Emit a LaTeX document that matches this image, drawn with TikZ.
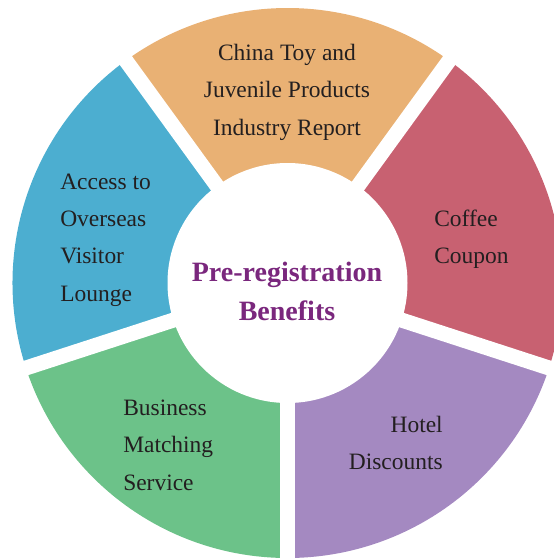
\documentclass[tikz,border=0pt]{standalone}
\usepackage{fontspec}
\setmainfont{Liberation Serif}
\usepackage{tikz}
\usepackage{color}

\definecolor{segorange}{RGB}{233,177,116}
\definecolor{segred}{RGB}{200,97,113}
\definecolor{segblue}{RGB}{76,174,208}
\definecolor{seggreen}{RGB}{108,194,137}
\definecolor{segpurple}{RGB}{164,137,193}
\definecolor{titlepurple}{RGB}{122,39,125}
\definecolor{labeltext}{RGB}{35,31,32}

\begin{document}
\begin{tikzpicture}[x=0.75pt,y=0.75pt,yscale=-1,xscale=1,
  seglabel/.style={inner sep=0pt,text=labeltext,font=\fontsize{17.6}{28.1}\selectfont},
  gapline/.style={draw=white,line width=11.25pt}]
\useasboundingbox (0,0) rectangle (554,558);

%Shape: Sector [id:orange]
\fill[segorange] (287.5,283) -- ++(-126:275) arc[start angle=-126,end angle=-54,radius=275] -- cycle ;
%Shape: Sector [id:red]
\fill[segred] (287.5,283) -- ++(-54:275) arc[start angle=-54,end angle=18,radius=275] -- cycle ;
%Shape: Sector [id:purple]
\fill[segpurple] (287.5,283) -- ++(18:275) arc[start angle=18,end angle=90,radius=275] -- cycle ;
%Shape: Sector [id:green]
\fill[seggreen] (287.5,283) -- ++(90:275) arc[start angle=90,end angle=162,radius=275] -- cycle ;
%Shape: Sector [id:blue]
\fill[segblue] (287.5,283) -- ++(162:275) arc[start angle=162,end angle=234,radius=275] -- cycle ;

%Shape: Circle [id:hole]
\fill[white] (287.5,283) circle[radius=120] ;

%Shape: Gaps
\draw[gapline] (287.5,283) -- ++(-126:290) ;
\draw[gapline] (287.5,283) -- ++(-54:290) ;
\draw[gapline] (287.5,283) -- ++(18:290) ;
\draw[gapline] (287.5,283) -- ++(90:290) ;
\draw[gapline] (287.5,283) -- ++(162:290) ;

% Text Node
\node[seglabel,align=center] (toyreport) at (287,92) {China Toy and\\Juvenile Products\\Industry Report};
% Text Node
\node[seglabel,align=left,anchor=west] (lounge) at (60,240) {Access to\\Overseas\\Visitor\\Lounge};
% Text Node
\node[seglabel,align=left,anchor=west] (coffee) at (434,239) {Coffee\\Coupon};
% Text Node
\node[seglabel,align=left,anchor=west] (matching) at (123,445) {Business\\Matching\\Service};
% Text Node
\node[seglabel,align=right,anchor=east] (hotel) at (443,443) {Hotel\\Discounts};
% Text Node
\node[inner sep=0pt,align=center,text=titlepurple,font=\fontsize{21}{29.25}\selectfont\bfseries] (title) at (287,291.5) {Pre-registration\\Benefits};

\end{tikzpicture}
\end{document}
